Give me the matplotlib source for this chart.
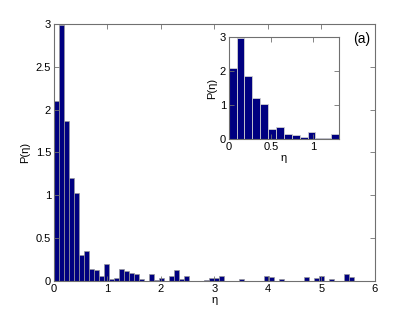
import numpy as np
import matplotlib
matplotlib.use('Agg')
import matplotlib.pyplot as plt

plt.rcParams['font.family'] = ['Liberation Sans', 'DejaVu Sans']
plt.rcParams['font.size'] = 8

# histogram of eta: 60 bins from 0 to 5.61
eta_max = 5.61
n_bins = 60
p_eta = [2.10, 2.99, 1.87, 1.20, 1.03, 0.30, 0.35, 0.14, 0.13, 0.062,
         0.195, 0.023, 0.035, 0.14, 0.113, 0.097, 0.085, 0.023, 0.0, 0.085,
         0.010, 0.031, 0.0, 0.060, 0.130, 0.029, 0.060, 0.0, 0.0, 0.0,
         0.008, 0.031, 0.031, 0.060, 0.0, 0.0, 0.0, 0.021, 0.0, 0.0,
         0.0, 0.0, 0.058, 0.050, 0.0, 0.020, 0.0, 0.0, 0.0, 0.0,
         0.043, 0.0, 0.031, 0.060, 0.0, 0.020, 0.0, 0.0, 0.084, 0.045]
inset_bins = 14

w = eta_max / n_bins
edges = np.arange(n_bins) * w
bar_color = '#000080'
edge_color = '#9a9a9a'
spine_color = '#707070'

fig = plt.figure(figsize=(4.15, 3.16), dpi=100)

def style(ax):
    for s in ax.spines.values():
        s.set_color(spine_color)
        s.set_linewidth(0.8)
    ax.tick_params(direction='in', length=3.5, width=0.6, color=spine_color,
                   top=True, right=True, labelsize=8, pad=2)

ax = fig.add_axes([0.130, 0.1108, 0.7735, 0.8133])
ax.bar(edges, p_eta, width=w, align='edge', color=bar_color,
       edgecolor=edge_color, linewidth=0.5)
ax.set_xlim(0, 6)
ax.set_ylim(0, 3)
ax.set_xticks(range(7))
ax.set_yticks([0, 0.5, 1, 1.5, 2, 2.5, 3])
ax.set_yticklabels(['0', '0.5', '1', '1.5', '2', '2.5', '3'])
ax.set_xlabel('η', labelpad=1)
ax.set_ylabel('P(η)', labelpad=4)
style(ax)
ax.text(0.985, 0.94, '(a)', transform=ax.transAxes, ha='right', va='center',
        fontsize=10)

ins = fig.add_axes([0.551, 0.560, 0.266, 0.322])
ins.bar(edges[:inset_bins], p_eta[:inset_bins], width=w, align='edge',
        color=bar_color, edgecolor='#d0d0d0', linewidth=0.6)
ins.set_xlim(0, inset_bins * w)
ins.set_ylim(0, 3)
ins.set_xticks([0, 0.5, 1])
ins.set_xticklabels(['0', '0.5', '1'])
ins.set_yticks([0, 1, 2, 3])
ins.set_xlabel('η', labelpad=1)
ins.set_ylabel('P(η)', labelpad=2)
style(ins)

fig.savefig('out.png', dpi=100)
